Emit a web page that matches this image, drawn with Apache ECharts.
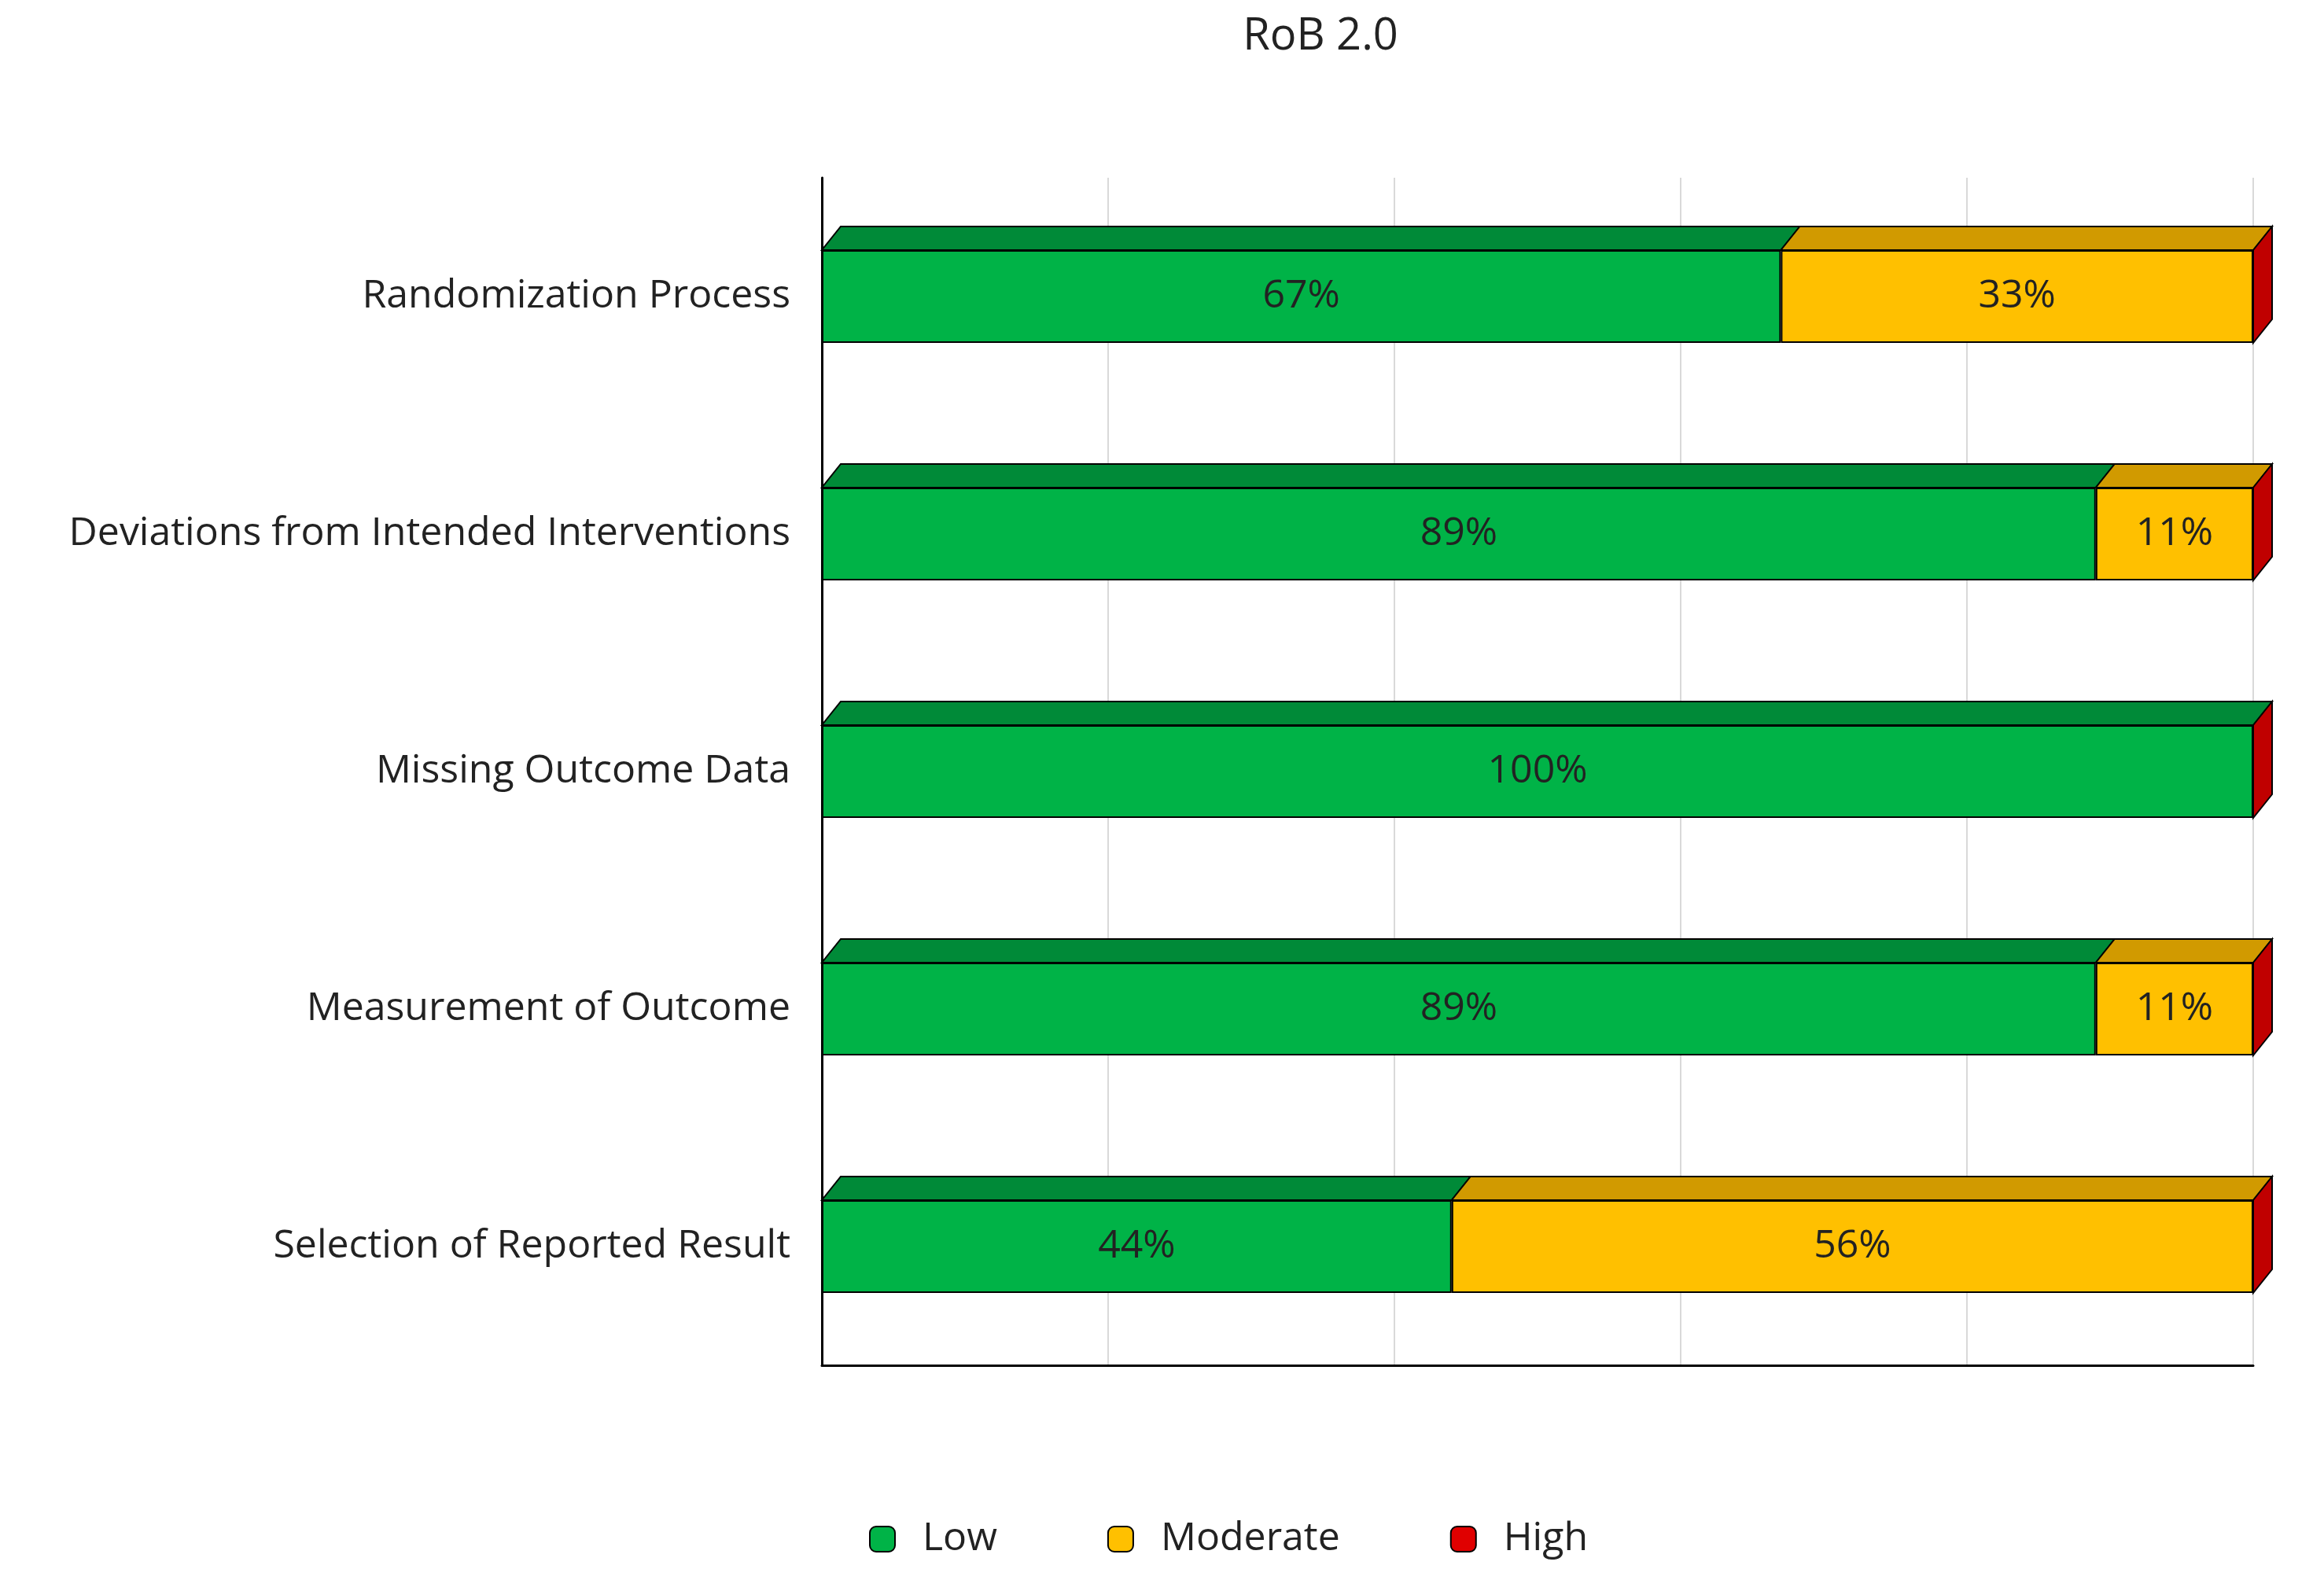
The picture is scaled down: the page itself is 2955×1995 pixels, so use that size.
<!DOCTYPE html>
<html>
<head>
<meta charset="utf-8">
<title>RoB 2.0</title>
<script src="https://cdn.jsdelivr.net/npm/echarts@6/dist/echarts.min.js"></script>
<style>
  html, body { margin: 0; padding: 0; background: #fff; }
  #main { width: 2955px; height: 1995px; }
</style>
</head>
<body>
<div id="main"></div>
<script>
// data
var categories = ['Randomization Process', 'Deviations from Intended Interventions',
                  'Missing Outcome Data', 'Measurement of Outcome', 'Selection of Reported Result'];
var lowValues = [67, 89, 100, 89, 44];
var moderateValues = [33, 11, 0, 11, 56];
var highValues = [0, 0, 0, 0, 0];

var myChart = echarts.init(document.getElementById('main'));

// fake 3D: top faces and the red end cap
function renderFaces(params, api) {
    var i = api.value(0);
    var low = lowValues[i], mod = moderateValues[i];
    var h = 118;
    var c = api.coord([0, i]);
    var yTop = c[1] - h / 2, yBot = c[1] + h / 2;
    var x0 = c[0];
    var x1 = api.coord([low, i])[0];
    var x2 = api.coord([low + mod, i])[0];
    var d = 30, s = 24;
    var kids = [];
    function face(xa, xb, color) {
        kids.push({
            type: 'polygon',
            shape: { points: [[xa, yTop], [xb, yTop], [xb + s, yTop - d], [xa + s, yTop - d]] },
            style: { fill: color, stroke: '#000', lineWidth: 2 }
        });
    }
    if (low > 0) face(x0, x1, '#008a38');
    if (mod > 0) face(x1, x2, '#d19a00');
    kids.push({
        type: 'polygon',
        shape: { points: [[x2, yTop], [x2 + s, yTop - d], [x2 + s, yBot - d], [x2, yBot]] },
        style: { fill: '#c00000', stroke: '#000', lineWidth: 2 }
    });
    return { type: 'group', children: kids };
}

var labelStyle = {
    show: true,
    fontSize: 50,
    fontFamily: 'Open Sans',
    color: '#222',
    formatter: function (p) { return p.value > 0 ? p.value + '%' : ''; }
};

var option = {
    title: {
        text: 'RoB 2.0',
        left: 1674,
        textAlign: 'center',
        top: 14,
        textStyle: { fontSize: 56, fontWeight: 'normal', fontFamily: 'Open Sans', color: '#222' }
    },
    legend: {
        bottom: 8,
        left: 1100,
        itemWidth: 32,
        itemHeight: 32,
        itemGap: 140,
        textStyle: { fontSize: 50, fontFamily: 'Open Sans', color: '#222', padding: [0, 0, 0, 30] },
        data: ['Low', 'Moderate', 'High']
    },
    grid: { left: 1045, right: 90, top: 226, bottom: 259 },
    xAxis: {
        type: 'value',
        min: 0,
        max: 100,
        interval: 20,
        axisLabel: { show: false },
        axisTick: { show: false },
        axisLine: { show: true, lineStyle: { color: '#000', width: 3 } },
        splitLine: { show: true, lineStyle: { color: '#d9d9d9', width: 2 } }
    },
    yAxis: {
        type: 'category',
        inverse: true,
        data: categories,
        axisTick: { show: false },
        axisLine: { show: true, lineStyle: { color: '#000', width: 3 } },
        axisLabel: { fontSize: 50, fontFamily: 'Open Sans', color: '#222', margin: 40 }
    },
    series: [
        {
            name: 'Low', type: 'bar', stack: 'rob', barWidth: 118,
            data: lowValues, label: labelStyle,
            itemStyle: { color: '#00b347', borderColor: '#000', borderWidth: 2 }
        },
        {
            name: 'Moderate', type: 'bar', stack: 'rob', barWidth: 118,
            data: moderateValues, label: labelStyle,
            itemStyle: { color: '#ffc000', borderColor: '#000', borderWidth: 2 }
        },
        {
            name: 'High', type: 'bar', stack: 'rob', barWidth: 118,
            data: highValues, label: { show: false },
            itemStyle: { color: '#e00000', borderColor: '#000', borderWidth: 2 }
        },
        {
            type: 'custom',
            renderItem: renderFaces,
            data: categories.map(function (c, i) { return [i]; }),
            encode: { y: 0 },
            silent: true,
            z: 1
        }
    ]
};
myChart.setOption(option);
</script>
</body>
</html>
